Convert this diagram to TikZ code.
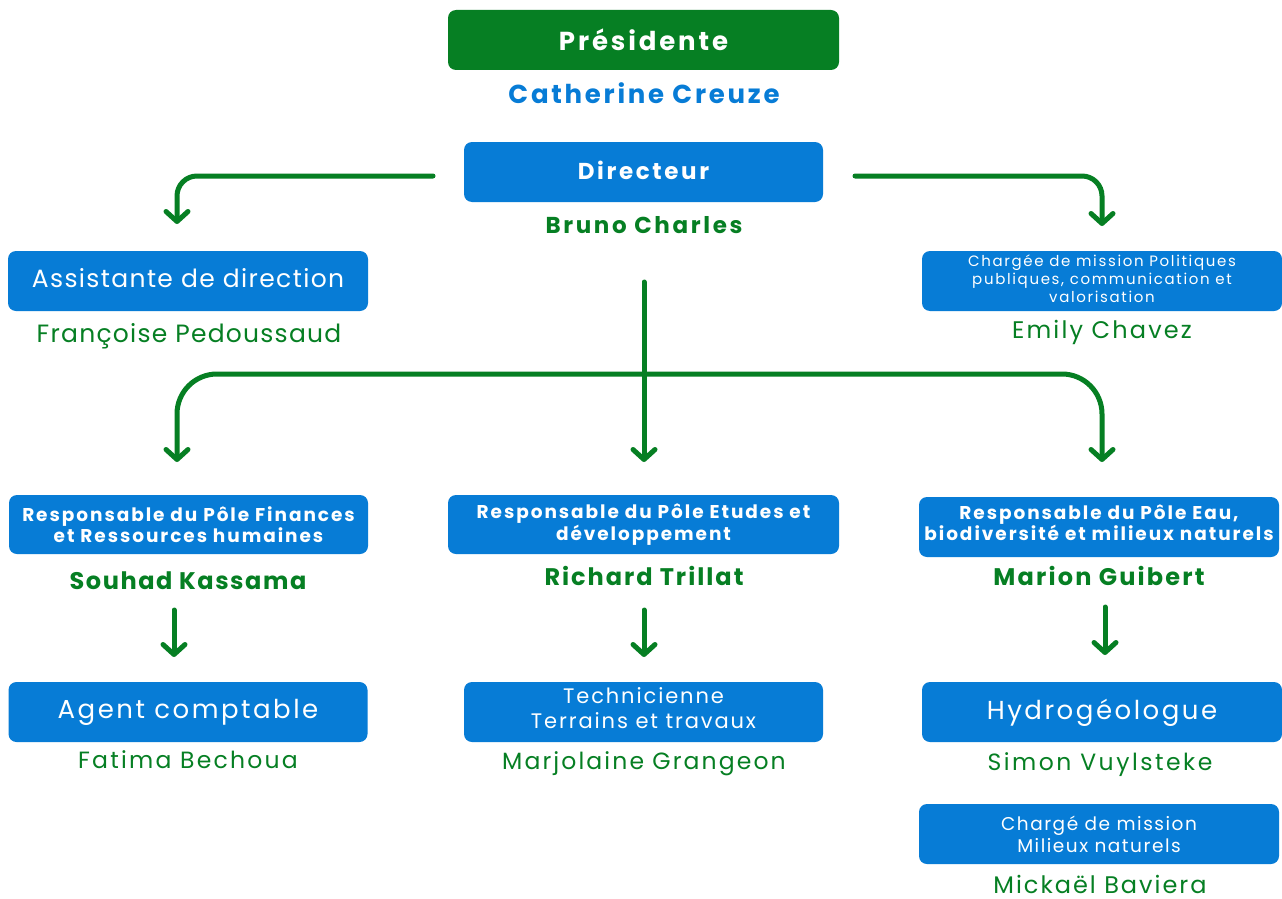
\documentclass[tikz,border=0pt]{standalone}
\usepackage{fontspec}
\setmainfont{Poppins}[LetterSpace=5]
\usetikzlibrary{arrows.meta}
\definecolor{cgreen}{HTML}{067F23}
\definecolor{cblue}{HTML}{077CD6}
\newcommand\fsz[3]{\fontsize{#1}{#2}\selectfont\addfontfeatures{LetterSpace=#3}}
\tikzset{
  box/.style={fill=cblue, rounded corners=8pt, inner sep=0pt, align=center, text=white},
  gbox/.style={box, fill=cgreen},
  pname/.style={anchor=base, text=cgreen, inner sep=0pt},
  link/.style={draw=cgreen, line width=5pt, line cap=round, rounded corners=20pt,
    -{Straight Barb[length=10pt,width=22pt,line cap=round,line join=round]}},
}
\begin{document}
\begin{tikzpicture}[x=1pt,y=-1pt]
\useasboundingbox[fill=white] (0,0) rectangle (1282,899);

% top
\node[gbox, minimum width=391pt, minimum height=60pt, font=\fsz{26}{30}{11}\bfseries] (pres) at (643.5,40) {Présidente};
\node[pname, text=cblue, font=\fsz{26}{30}{10.5}\bfseries] (presn) at (644,103) {Catherine Creuze};
\node[box, minimum width=359pt, minimum height=60pt, text depth=4pt, font=\fsz{23}{28}{11.5}\bfseries] (dir) at (643.5,172) {Directeur};
\node[pname, font=\fsz{23}{28}{11.5}\bfseries] (dirn) at (644,233) {Bruno Charles};

% second row
\node[box, minimum width=360pt, minimum height=60pt, text depth=6pt, font=\fsz{25}{30}{5.5}] (assist) at (188,281) {Assistante de direction};
\node[pname, font=\fsz{25}{30}{5}] (assistn) at (189,342) {Françoise Pedoussaud};
\node[box, minimum width=360pt, minimum height=60pt, text depth=4pt, font=\fsz{15}{18}{11}] (charg) at (1102,281) {Chargée de mission Politiques\\publiques, communication et\\valorisation};
\node[pname, font=\fsz{24}{28}{9}] (chargn) at (1102,338) {Emily Chavez};

% third row
\node[box, minimum width=359pt, minimum height=59pt, font=\fsz{18.5}{21.5}{10.5}\bfseries] (fin) at (188.5,524.5) {Responsable du Pôle Finances\\et Ressources humaines};
\node[pname, font=\fsz{24}{28}{6.5}\bfseries] (finn) at (188,589) {Souhad Kassama};
\node[box, minimum width=391pt, minimum height=59pt, font=\fsz{18.5}{21.5}{10.5}\bfseries] (etu) at (643.5,524.5) {Responsable du Pôle Etudes et\\développement};
\node[pname, font=\fsz{24}{28}{8.3}\bfseries] (etun) at (644,585) {Richard Trillat};
\node[box, minimum width=360pt, minimum height=60pt, text depth=8pt, font=\fsz{18.5}{21}{10.5}\bfseries] (eau) at (1099,527) {Responsable du Pôle Eau,\\biodiversité et milieux naturels};
\node[pname, font=\fsz{24}{28}{9.2}\bfseries] (eaun) at (1099,585) {Marion Guibert};

% fourth row
\node[box, minimum width=359pt, minimum height=60pt, text depth=6pt, font=\fsz{26}{30}{9.6}] (agent) at (188,712) {Agent comptable};
\node[pname, font=\fsz{23.5}{28}{9.6}] (agentn) at (188,768) {Fatima Bechoua};
\node[box, minimum width=359pt, minimum height=60pt, text depth=8pt, font=\fsz{21}{25}{9}] (tech) at (643.5,712) {Technicienne\\Terrains et travaux};
\node[pname, font=\fsz{23.5}{28}{9}] (techn) at (644,769) {Marjolaine Grangeon};
\node[box, minimum width=360pt, minimum height=60pt, text depth=6pt, font=\fsz{26}{30}{9.7}] (hydro) at (1102,712) {Hydrogéologue};
\node[pname, font=\fsz{23.5}{28}{10.7}] (hydron) at (1100,770) {Simon Vuylsteke};
\node[box, minimum width=360pt, minimum height=60pt, font=\fsz{18.5}{22}{8.2}] (cmn) at (1099,834) {Chargé de mission\\Milieux naturels};
\node[pname, font=\fsz{24}{28}{8.3}] (cmnn) at (1100,893) {Mickaël Baviera};

% connectors
\coordinate (lstart) at (433,176);
\coordinate (lend) at (177,224);
\coordinate (rstart) at (855,176);
\coordinate (rend) at (1102,226);
\draw[link] (lstart) -| (lend);
\draw[link] (rstart) -| (rend);

\coordinate (mtop) at (644,282);
\coordinate (mjoin) at (644,374);
\coordinate (mend) at (644,462);
\coordinate (lbend) at (177,462);
\coordinate (rbend) at (1102,462);
\draw[link] (mtop) -- (mend);
\draw[link, rounded corners=40pt] (mjoin) -| (lbend);
\draw[link, rounded corners=40pt] (mjoin) -| (rbend);

\coordinate (a1) at (174,610); \coordinate (b1) at (174,657);
\coordinate (a2) at (644,610); \coordinate (b2) at (644,657);
\coordinate (a3) at (1105,607); \coordinate (b3) at (1105,655);
\draw[link] (a1) -- (b1);
\draw[link] (a2) -- (b2);
\draw[link] (a3) -- (b3);
\end{tikzpicture}
\end{document}
